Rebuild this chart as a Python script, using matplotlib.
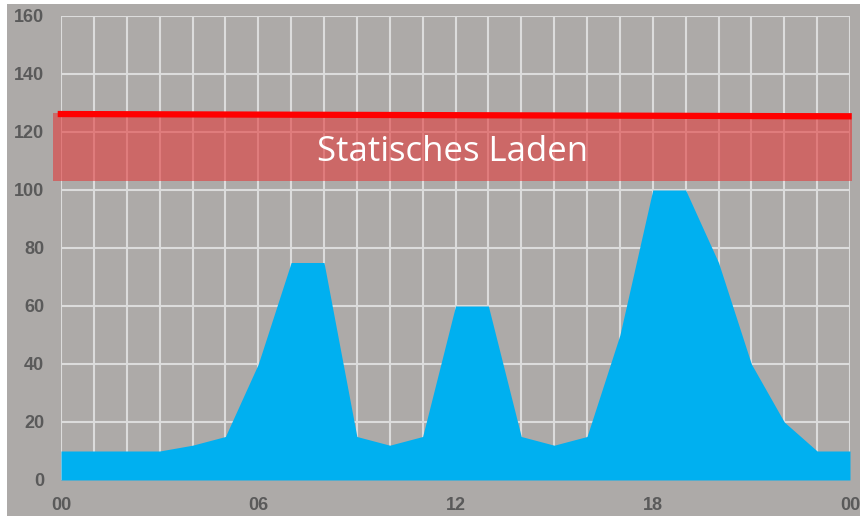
import numpy as np
import matplotlib.pyplot as plt
from matplotlib.patches import Rectangle

# Lastprofil ueber den Tag (stuendlich)
stunden = np.arange(0, 25)
last = [10, 10, 10, 10, 12, 15, 40, 75, 75, 15, 12, 15, 60, 60,
        15, 12, 15, 50, 100, 100, 75, 40, 20, 10, 10]

tick_pos = [0, 6, 12, 18, 24]
tick_txt = ["00", "06", "12", "18", "00"]
y_ticks = [0, 20, 40, 60, 80, 100, 120, 140, 160]

# statische Ladeleistung
band_unten = 103
band_oben = 126.6
linie_y = [126.2, 125.4]
band_text = "Statisches Laden"

grau = "#adaaa8"

fig = plt.figure(figsize=(8.6, 5.16), dpi=100)
fig.patch.set_facecolor(grau)
ax = fig.add_axes([61 / 860, 36 / 516, 789 / 860, 464 / 516])
ax.set_facecolor(grau)

ax.fill_between(stunden, 0, last, color="#00b0f0", lw=0, zorder=2)

ax.set_xlim(0, 24)
ax.set_ylim(0, 160)
ax.set_xticks(np.arange(0, 25), minor=True)
ax.set_xticks(tick_pos)
ax.set_xticklabels(tick_txt)
ax.set_yticks(y_ticks)
ax.grid(True, which="both", axis="x", color="#dcdcdc", lw=1.5, zorder=1)
ax.grid(True, axis="y", color="#dcdcdc", lw=1.5, zorder=1)
ax.set_axisbelow(True)
ax.tick_params(which="both", length=0)
ax.tick_params(axis="x", pad=12)
ax.tick_params(axis="y", pad=12)
for lab in ax.get_xticklabels() + ax.get_yticklabels():
    lab.set_fontfamily("Liberation Sans")
    lab.set_fontweight("bold")
    lab.set_fontsize(13)
    lab.set_color("#5a5a5a")
for s in ax.spines.values():
    s.set_visible(False)

# roter Bereich
ax.add_patch(Rectangle((-0.25, band_unten), 24.3, band_oben - band_unten,
                       facecolor="#e23c3c", alpha=0.6, lw=0, zorder=3,
                       clip_on=False))
ax.plot([-0.1, 24.05], linie_y, color="#ff0000", lw=4.5, zorder=4,
        clip_on=False, solid_capstyle="butt")
ax.text(11.9, (band_unten + band_oben) / 2 - 1.8, band_text, color="white",
        fontsize=25, family="Open Sans", ha="center", va="center", zorder=5)

# weisser Rand oben und links
fig.patches.append(Rectangle((0, 1 - 4 / 516), 1, 4 / 516, transform=fig.transFigure,
                             facecolor="white", lw=0))
fig.patches.append(Rectangle((0, 0), 7 / 860, 1, transform=fig.transFigure,
                             facecolor="white", lw=0))

fig.savefig("out.png", dpi=100, facecolor=grau)
